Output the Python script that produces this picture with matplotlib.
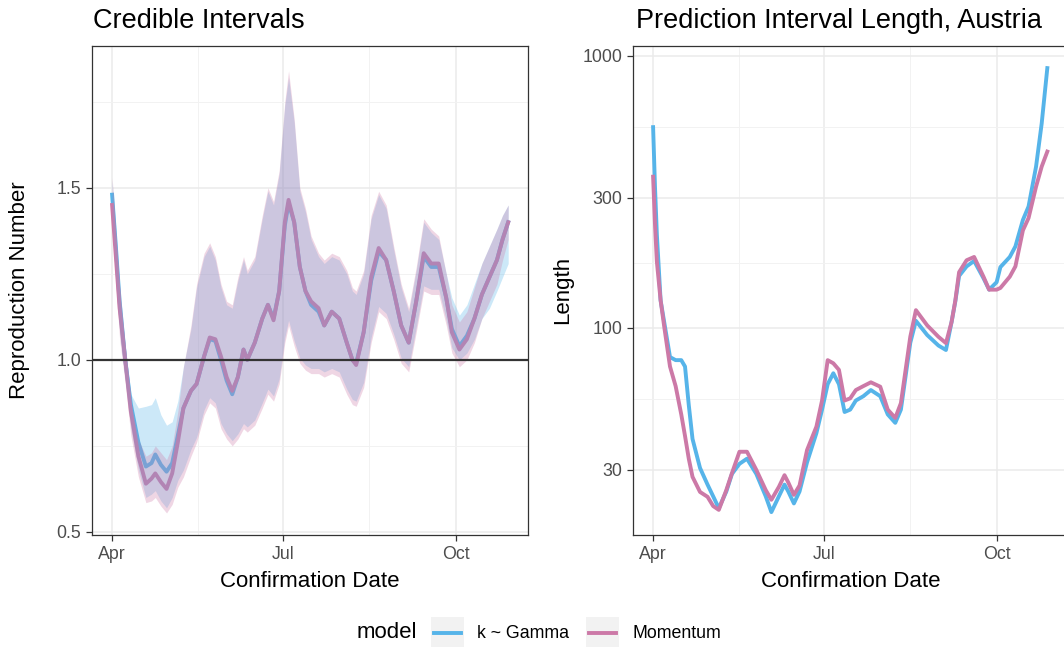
import numpy as np
import pandas as pd
import matplotlib
matplotlib.use("Agg")
import matplotlib.pyplot as plt
from matplotlib.patches import Rectangle
from matplotlib.lines import Line2D

plt.rcParams["font.family"] = ["Liberation Sans", "DejaVu Sans"]

START = pd.Timestamp("2020-04-01")

# ---- left panel: reproduction number, days after Apr 1 ----
days_r = [0, 2, 4, 7, 10, 14, 18, 21, 23, 26, 29, 32, 35, 38, 42, 45, 49, 52, 55, 58,
          61, 64, 67, 70, 72, 76, 80, 83, 86, 89, 92, 94, 97, 100, 103, 106, 110, 113,
          117, 121, 125, 128, 130, 134, 138, 142, 146, 150, 154, 158, 162, 166, 170,
          174, 178, 181, 185, 189, 193, 197, 201, 205, 208, 211]

mom_mean = [1.45, 1.30, 1.15, 1.00, 0.85, 0.72, 0.64, 0.655, 0.67, 0.645, 0.625, 0.67,
            0.76, 0.86, 0.91, 0.93, 1.01, 1.065, 1.06, 1.01, 0.95, 0.91, 0.95, 1.03,
            1.00, 1.05, 1.12, 1.16, 1.115, 1.20, 1.40, 1.465, 1.40, 1.27, 1.20, 1.17,
            1.15, 1.10, 1.14, 1.12, 1.05, 1.00, 0.985, 1.08, 1.24, 1.325, 1.29, 1.20,
            1.10, 1.05, 1.17, 1.31, 1.28, 1.28, 1.18, 1.08, 1.03, 1.06, 1.12, 1.19,
            1.24, 1.29, 1.35, 1.40]
mom_lo = [1.40, 1.22, 1.06, 0.93, 0.78, 0.66, 0.585, 0.59, 0.60, 0.575, 0.555, 0.58,
          0.63, 0.66, 0.72, 0.76, 0.84, 0.875, 0.86, 0.80, 0.77, 0.75, 0.77, 0.80,
          0.79, 0.81, 0.86, 0.90, 0.88, 0.93, 1.05, 1.10, 1.04, 0.99, 0.97, 0.96,
          0.96, 0.95, 0.96, 0.95, 0.90, 0.87, 0.865, 0.92, 1.05, 1.14, 1.12, 1.06,
          0.99, 0.965, 1.08, 1.20, 1.19, 1.19, 1.10, 1.02, 0.98, 1.00, 1.05, 1.12,
          1.17, 1.22, 1.29, 1.35]
mom_hi = [1.53, 1.38, 1.22, 1.04, 0.88, 0.77, 0.72, 0.73, 0.75, 0.73, 0.71, 0.75,
          0.85, 0.98, 1.10, 1.22, 1.31, 1.34, 1.30, 1.22, 1.17, 1.16, 1.24, 1.30,
          1.26, 1.30, 1.42, 1.50, 1.46, 1.55, 1.75, 1.84, 1.70, 1.50, 1.44, 1.36,
          1.31, 1.29, 1.31, 1.30, 1.26, 1.21, 1.20, 1.26, 1.42, 1.49, 1.45, 1.33,
          1.22, 1.15, 1.27, 1.41, 1.38, 1.36, 1.25, 1.16, 1.11, 1.14, 1.21, 1.28,
          1.33, 1.38, 1.42, 1.45]

gam_mean = [1.48, 1.33, 1.17, 1.00, 0.87, 0.76, 0.69, 0.70, 0.725, 0.695, 0.675, 0.70,
            0.78, 0.86, 0.91, 0.93, 1.01, 1.06, 1.055, 1.00, 0.94, 0.90, 0.95, 1.03,
            1.00, 1.05, 1.12, 1.16, 1.12, 1.20, 1.39, 1.455, 1.40, 1.27, 1.20, 1.16,
            1.14, 1.10, 1.14, 1.12, 1.05, 1.00, 0.99, 1.08, 1.23, 1.315, 1.29, 1.20,
            1.10, 1.05, 1.17, 1.30, 1.27, 1.27, 1.18, 1.09, 1.04, 1.07, 1.12, 1.19,
            1.24, 1.29, 1.35, 1.40]
gam_lo = [1.42, 1.24, 1.08, 0.94, 0.80, 0.68, 0.60, 0.61, 0.62, 0.59, 0.57, 0.60,
          0.65, 0.68, 0.74, 0.775, 0.855, 0.89, 0.875, 0.815, 0.785, 0.765, 0.785,
          0.815, 0.805, 0.825, 0.875, 0.915, 0.895, 0.945, 1.065, 1.115, 1.055,
          1.005, 0.985, 0.975, 0.975, 0.965, 0.975, 0.965, 0.915, 0.885, 0.88, 0.935,
          1.065, 1.155, 1.135, 1.075, 1.005, 0.98, 1.095, 1.215, 1.205, 1.205, 1.115,
          1.035, 1.00, 1.02, 1.06, 1.12, 1.15, 1.20, 1.24, 1.28]
gam_hi = [1.52, 1.37, 1.21, 1.04, 0.90, 0.86, 0.865, 0.87, 0.89, 0.84, 0.81, 0.82,
          0.88, 0.98, 1.09, 1.21, 1.30, 1.33, 1.29, 1.21, 1.16, 1.15, 1.23, 1.29,
          1.25, 1.29, 1.41, 1.49, 1.45, 1.54, 1.74, 1.82, 1.69, 1.49, 1.43, 1.35,
          1.30, 1.28, 1.30, 1.29, 1.25, 1.20, 1.19, 1.25, 1.41, 1.48, 1.44, 1.32,
          1.21, 1.14, 1.26, 1.40, 1.37, 1.35, 1.25, 1.18, 1.13, 1.16, 1.22, 1.28,
          1.33, 1.38, 1.42, 1.45]

# ---- right panel: prediction interval length ----
days_len = [0, 1, 2, 4, 6, 9, 12, 15, 17, 19, 21, 25, 29, 32, 35, 39, 42, 46, 50, 55,
            60, 63, 67, 70, 72, 75, 78, 82, 87, 90, 93, 96, 99, 102, 105, 108, 112,
            116, 121, 125, 129, 132, 137, 140, 146, 152, 156, 159, 161, 163, 167, 171,
            176, 179, 183, 185, 190, 193, 197, 200, 204, 207, 210]
gam_len = [546, 330, 220, 126, 104, 78, 76, 76, 72, 52, 39, 30.5, 26.5, 24, 21.7, 25,
           29, 31.6, 33, 29, 24, 21, 24, 26.5, 25, 22.6, 25, 32, 41, 50, 62, 68, 62,
           49, 50, 54, 56, 59, 56, 48, 44.7, 50, 88, 106, 94, 86, 82.8, 105, 125, 155,
           168, 176, 152, 138, 147, 167, 182, 199, 249, 279, 391, 563, 900]
mom_len = [359, 240, 175, 126, 100, 72, 61, 48, 40, 33, 28.3, 24.9, 23.9, 22.1, 21.4,
           25.3, 29.2, 35, 35, 30, 25.3, 23.3, 26, 28.7, 27, 24.3, 26.3, 35.5, 43.3, 54,
           76, 74, 70, 54, 55, 59, 61, 63, 60.7, 50, 46.6, 52.8, 92.6, 116, 102, 92.6,
           87.8, 105, 126, 160, 177, 182, 154, 138, 138, 140, 154, 168, 228, 253, 330,
           391, 444]

models = ["k ~ Gamma", "Momentum"]
colors = ["#56B4E9", "#CC79A7"]

W, H = 1064, 647


def fx(px):
    return px / W


def fy(py):
    return 1 - py / H


def to_dates(days):
    return START + pd.to_timedelta(days, unit="D")


fig = plt.figure(figsize=(W / 100, H / 100), dpi=100)
ax1 = fig.add_axes([fx(92.3), fy(535), fx(528 - 92.3), (535 - 45.7) / H])
ax2 = fig.add_axes([fx(633.3), fy(535), fx(528 - 92.3), (535 - 45.7) / H])

dr = to_dates(days_r)
# lines first, ribbons drawn over them (as in the original)
ax1.plot(dr, gam_mean, color=colors[0], lw=2.8, zorder=2)
ax1.plot(dr, mom_mean, color=colors[1], lw=2.8, zorder=2)
ax1.fill_between(dr, gam_lo, gam_hi, color=colors[0], alpha=0.3, lw=0, zorder=3)
ax1.fill_between(dr, mom_lo, mom_hi, color=colors[1], alpha=0.3, lw=0, zorder=3)
ax1.axhline(1.0, color="#333333", lw=1.6, zorder=4)
ax1.set_ylim(0.491, 1.913)
ax1.set_yticks([0.5, 1.0, 1.5])
ax1.set_yticklabels(["0.5", "1.0", "1.5"])
ax1.set_yticks([0.75, 1.25, 1.75], minor=True)

dl = to_dates(days_len)
ax2.plot(dl, gam_len, color=colors[0], lw=2.8, zorder=2)
ax2.plot(dl, mom_len, color=colors[1], lw=2.8, zorder=3)
ax2.set_yscale("log")
ax2.set_ylim(17.3, 1088)
ax2.set_yticks([30, 100, 300, 1000])
ax2.set_yticklabels(["30", "100", "300", "1000"])
ax2.set_yticks([10 ** 1.7386, 10 ** 2.2386, 10 ** 2.7386], minor=True)

xmin = START - pd.Timedelta(days=10.55)
xmax = START + pd.Timedelta(days=221.55)
for ax in (ax1, ax2):
    ax.set_xlim(xmin, xmax)
    ax.set_xticks([pd.Timestamp("2020-04-01"), pd.Timestamp("2020-07-01"),
                   pd.Timestamp("2020-10-01")])
    ax.set_xticklabels(["Apr", "Jul", "Oct"])
    ax.set_xticks([pd.Timestamp("2020-05-16 12:00"), pd.Timestamp("2020-08-16")], minor=True)
    ax.yaxis.set_minor_formatter(plt.NullFormatter())
    ax.xaxis.set_minor_formatter(plt.NullFormatter())
    ax.grid(True, which="major", color="#EBEBEB", lw=1.1, zorder=0)
    ax.grid(True, which="minor", color="#F2F2F2", lw=0.7, zorder=0)
    ax.set_axisbelow(True)
    ax.tick_params(which="major", direction="out", length=4, width=0.9,
                   color="#333333", labelcolor="#4D4D4D", labelsize=12.8, pad=4)
    ax.tick_params(which="minor", length=0)
    for s in ax.spines.values():
        s.set_color("#333333")
        s.set_linewidth(0.9)

fig.text(fx(93), fy(28), "Credible Intervals", fontsize=19.5, va="baseline", ha="left")
fig.text(fx(636), fy(28), "Prediction Interval Length, Austria", fontsize=19.5,
         va="baseline", ha="left")
fig.text(fx(310), fy(587), "Confirmation Date", fontsize=16, va="baseline", ha="center")
fig.text(fx(851), fy(587), "Confirmation Date", fontsize=16, va="baseline", ha="center")
fig.text(fx(20), fy(290), "Reproduction Number", fontsize=16, rotation=90,
         va="center", ha="center")
fig.text(fx(563), fy(290), "Length", fontsize=16, rotation=90, va="center", ha="center")

# legend at bottom
fig.text(fx(357), fy(633), "model", fontsize=16, va="center", ha="left")
key_x = [431, 586]
text_x = [477, 632]
for kx, tx, lab, col in zip(key_x, text_x, models, colors):
    fig.add_artist(Rectangle((fx(kx), fy(648)), fx(33), 31 / H, transform=fig.transFigure,
                             facecolor="#F2F2F2", edgecolor="none"))
    fig.add_artist(Line2D([fx(kx + 3), fx(kx + 30)], [fy(633), fy(633)],
                          transform=fig.transFigure, color=col, lw=2.8))
    fig.text(fx(tx), fy(633), lab, fontsize=12.8, va="center", ha="left")

fig.savefig("out.png", dpi=100)
